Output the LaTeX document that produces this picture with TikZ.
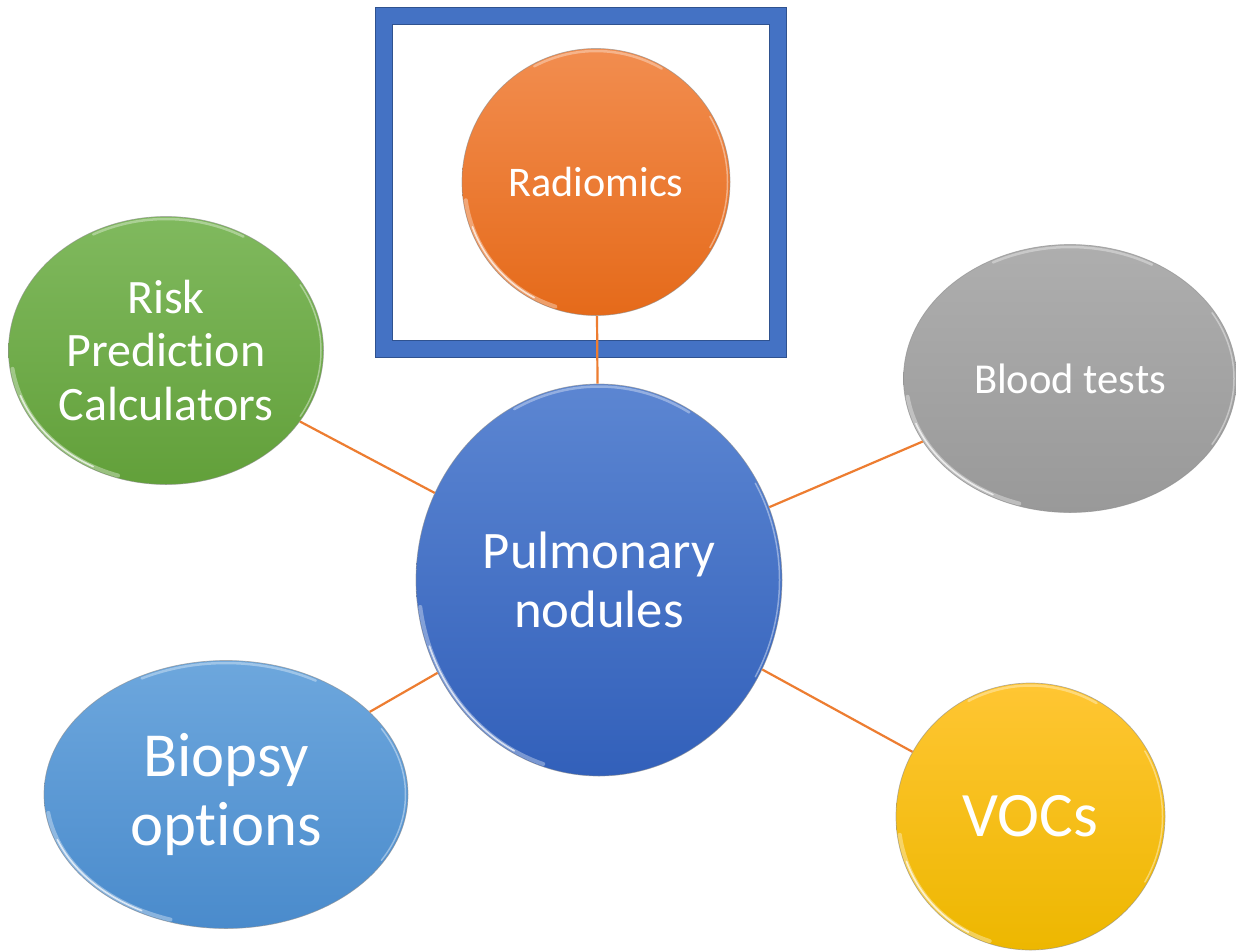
\documentclass[tikz,border=0pt]{standalone}
\usepackage{fontspec}
\setmainfont{Carlito}[Ligatures=NoCommon]
\usetikzlibrary{shapes.geometric}

\definecolor{linkorange}{HTML}{ED7D31}
\definecolor{frameblue}{HTML}{4472C4}
\definecolor{frameedge}{HTML}{2F528F}
\definecolor{pnTop}{HTML}{5C86D2}
\definecolor{pnBot}{HTML}{3260BA}
\definecolor{radTop}{HTML}{F28D4F}
\definecolor{radBot}{HTML}{E56A1A}
\definecolor{riskTop}{HTML}{80B95E}
\definecolor{riskBot}{HTML}{62A03A}
\definecolor{bloodTop}{HTML}{AEAEAE}
\definecolor{bloodBot}{HTML}{999999}
\definecolor{bioTop}{HTML}{6DA7DD}
\definecolor{bioBot}{HTML}{4A8BCC}
\definecolor{vocTop}{HTML}{FFC633}
\definecolor{vocBot}{HTML}{EDB700}

% light bevel strokes along the rim of a bubble: node, x radius, y radius
\newcommand\bubblegleam[3]{%
  \draw[gleam] (#1.center) ++(108:#2 and #3)
     arc[start angle=108, end angle=172, x radius=#2, y radius=#3];
  \draw[gleamcore] (#1.center) ++(118:#2 and #3)
     arc[start angle=118, end angle=160, x radius=#2, y radius=#3];
  \draw[gleamtop] (#1.center) ++(242:#2 and #3)
     arc[start angle=242, end angle=300, x radius=#2, y radius=#3];
  \draw[gleamside] (#1.center) ++(-30:#2 and #3)
     arc[start angle=-30, end angle=30, x radius=#2, y radius=#3];
}

\tikzset{
  bubble/.style 2 args={ellipse, inner sep=0pt, align=center, text=white,
    top color=#1, bottom color=#2, draw=black!45, draw opacity=0.6,
    line width=0.7pt},
  link/.style={draw=linkorange, line width=2.2pt},
  gleam/.style={white, line width=4pt, line cap=round, opacity=0.35},
  gleamcore/.style={white, line width=1.6pt, line cap=round, opacity=0.7},
  gleamtop/.style={white, line width=2.5pt, line cap=round, opacity=0.35},
  gleamside/.style={white, line width=1.5pt, line cap=round, opacity=0.4},
}

\begin{document}
\begin{tikzpicture}[x=1pt, y=-1pt]
\useasboundingbox[fill=white] (0,0) rectangle (1236,951);

% frame around the radiomics bubble
\node (frame) [draw=frameblue, line width=17pt, minimum width=393.5pt,
  minimum height=333.3pt, inner sep=0pt] at (580.75,182.35) {};
\node [draw=frameedge, line width=0.8pt, minimum width=410.7pt,
  minimum height=350.3pt, inner sep=0pt] at (frame.center) {};
\node [draw=frameedge, line width=0.8pt, minimum width=376.3pt,
  minimum height=316.3pt, inner sep=0pt] at (frame.center) {};

% bubbles
\node (pn) [bubble={pnTop}{pnBot}, minimum width=366pt, minimum height=392pt,
  font=\fontsize{52.7}{58.3}\selectfont] at (599,580) {Pulmonary\\nodules};
\node (rad) [bubble={radTop}{radBot}, minimum width=268pt, minimum height=267pt,
  font=\fontsize{42.2}{48}\selectfont] at (596,182) {Radiomics};
\node (risk) [bubble={riskTop}{riskBot}, minimum width=315pt, minimum height=268pt,
  font=\fontsize{48}{53.3}\selectfont] at (166,350.5) {Risk\\Prediction\\Calculators};
\node (blood) [bubble={bloodTop}{bloodBot}, minimum width=333pt, minimum height=268pt,
  font=\fontsize{42.6}{49}\selectfont] at (1070,378.5) {Blood tests};
\node (bio) [bubble={bioTop}{bioBot}, minimum width=364pt, minimum height=268pt,
  font=\fontsize{62.7}{68.3}\selectfont] at (226,794.5) {Biopsy\\options};
\node (voc) [bubble={vocTop}{vocBot}, minimum width=269pt, minimum height=267pt,
  font=\fontsize{63.3}{74}\selectfont] at (1030.5,816.5) {VOCs};

% bevel highlights
\bubblegleam{pn}{180.5}{193.5}
\bubblegleam{rad}{131.5}{131}
\bubblegleam{risk}{155}{131.5}
\bubblegleam{blood}{164}{131.5}
\bubblegleam{bio}{179.5}{131.5}
\bubblegleam{voc}{132}{131}

% connectors from the central bubble
\draw[link] (pn) -- (rad);
\draw[link] (pn) -- (risk);
\draw[link] (pn) -- (blood);
\draw[link] (pn) -- (bio);
\draw[link] (pn) -- (voc);
\end{tikzpicture}
\end{document}
